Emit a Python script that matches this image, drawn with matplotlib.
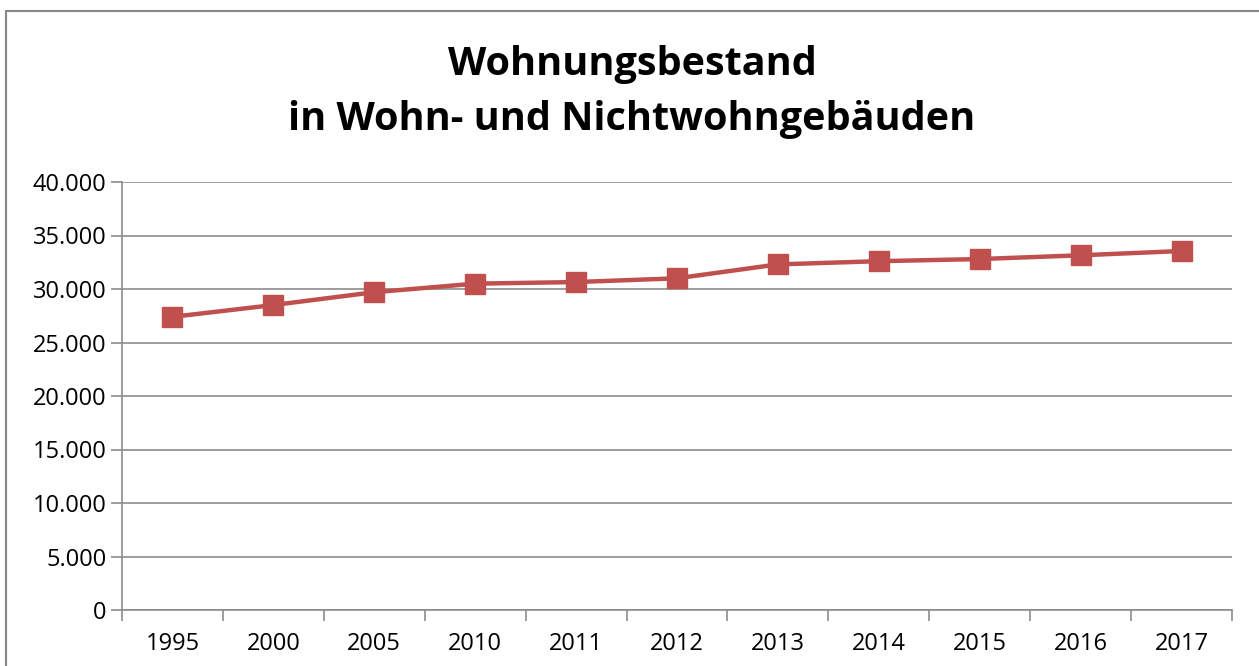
import matplotlib.pyplot as plt
from matplotlib.patches import Rectangle
from matplotlib.ticker import FuncFormatter, MultipleLocator

# data
jahre = ['1995', '2000', '2005', '2010', '2011', '2012', '2013', '2014', '2015', '2016', '2017']
wohnungen = [27400, 28500, 29700, 30500, 30650, 31000, 32300, 32600, 32800, 33150, 33550]

title = 'Wohnungsbestand\nin Wohn- und Nichtwohngebäuden'

plt.rcParams['font.family'] = ['Open Sans', 'DejaVu Sans']

fig = plt.figure(figsize=(12.59, 6.66), dpi=100)

# outer chart frame (runs off the right and bottom edge)
fig.patches.append(Rectangle((6 / 1259, -0.1), 1.2, (666 - 11) / 666 + 0.1,
                             transform=fig.transFigure, fill=False,
                             edgecolor='#878787', linewidth=1.5))

ax = fig.add_axes([122 / 1259, 56 / 666, 1110 / 1259, 428 / 666])

x = list(range(len(jahre)))
ax.plot(x, wohnungen, color='#C0504D', linewidth=3.2, marker='s',
        markersize=14, markerfacecolor='#C0504D', markeredgecolor='#C0504D',
        zorder=3)

ax.set_xlim(-0.5, len(jahre) - 0.5)
ax.set_ylim(0, 40000)
ax.yaxis.set_major_locator(MultipleLocator(5000))
ax.yaxis.set_major_formatter(FuncFormatter(lambda v, p: f'{int(v):,}'.replace(',', '.')))
ax.grid(axis='y', color='#8c8c8c', linewidth=1.2)
ax.set_axisbelow(True)

# category ticks sit between the categories
ax.set_xticks([i - 0.5 for i in range(len(jahre) + 1)])
ax.set_xticklabels([])
ax.set_xticks(x, minor=True)
ax.set_xticklabels(jahre, minor=True)
ax.tick_params(axis='x', which='minor', length=0, labelsize=17, pad=16)
ax.tick_params(axis='x', which='major', length=8, width=1.2, color='#8c8c8c', direction='out')
ax.tick_params(axis='y', length=8, width=1.2, color='#8c8c8c', labelsize=17, pad=3)

for s in ['top', 'right']:
    ax.spines[s].set_visible(False)
for s in ['left', 'bottom']:
    ax.spines[s].set_color('#8c8c8c')
    ax.spines[s].set_linewidth(1.2)

fig.text(632 / 1259, 1 - 92 / 666, title, ha='center', va='center',
         fontsize=28.5, fontweight='bold', linespacing=1.55)

fig.savefig('out.png', dpi=100)
